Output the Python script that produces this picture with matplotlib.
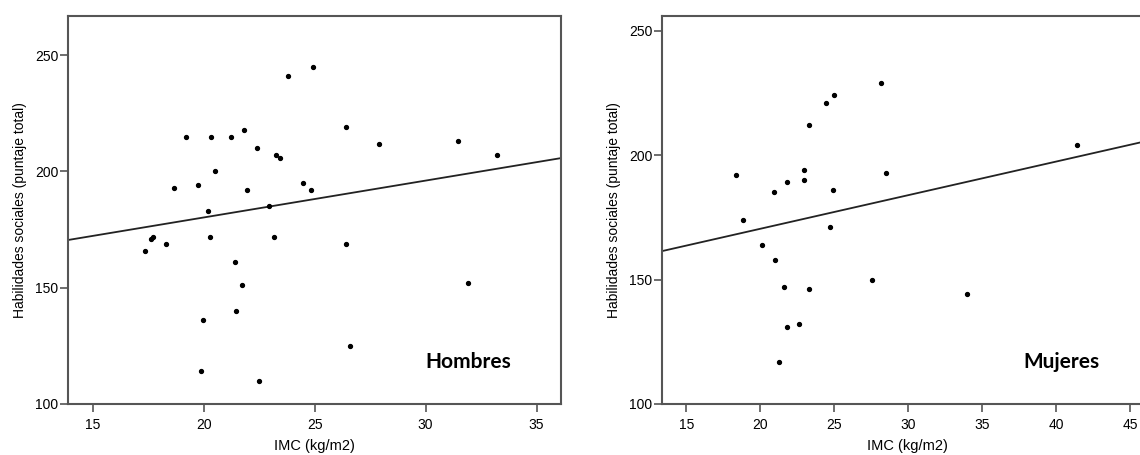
import matplotlib
matplotlib.use("Agg")
import matplotlib.pyplot as plt
import numpy as np

# Hombres (IMC, habilidades sociales)
imc_h = [17.34, 17.63, 17.72, 18.29, 18.68, 19.22, 19.75, 19.96, 19.89, 20.19,
         20.32, 20.30, 20.52, 21.24, 21.42, 21.45, 21.73, 21.82, 21.96, 22.40,
         22.51, 22.94, 23.15, 23.26, 23.44, 23.82, 24.49, 24.83, 24.93, 26.42,
         26.42, 26.61, 27.89, 31.45, 31.90, 33.22]
hs_h = [166, 171, 172, 169, 193, 215, 194, 136, 114, 183,
        215, 172, 200, 215, 161, 140, 151, 218, 192, 210,
        110, 185, 172, 207, 206, 241, 195, 192, 245, 219,
        169, 125, 212, 213, 152, 207]

# Mujeres
imc_m = [18.38, 18.83, 20.08, 20.91, 20.98, 21.28, 21.60, 21.79, 21.79, 22.58,
         22.97, 22.97, 23.27, 23.31, 24.47, 24.74, 24.93, 24.98, 27.53, 28.17,
         28.49, 33.98, 41.40]
hs_m = [192, 174, 164, 185, 158, 117, 147, 189, 131, 132,
        194, 190, 146, 212, 221, 171, 186, 224, 150, 229,
        193, 144, 204]

# regression lines (intercept, slope)
fit_h = (148.5, 1.586)
fit_m = (143.4, 1.35)

plt.rcParams['font.family'] = ['Liberation Sans', 'DejaVu Sans']

fig = plt.figure(figsize=(11.4, 4.55), dpi=100)
ax1 = fig.add_axes([0.0599, 0.1121, 0.4322, 0.8534])
ax2 = fig.add_axes([0.5807, 0.1121, 0.4301, 0.8534])

panels = [
    (ax1, imc_h, hs_h, fit_h, (13.9, 36.1), (100, 267), [15, 20, 25, 30, 35], 'Hombres', (31.94, 118.2)),
    (ax2, imc_m, hs_m, fit_m, (13.35, 46.5), (100, 256), [15, 20, 25, 30, 35, 40, 45], 'Mujeres', (40.38, 117.0)),
]

for ax, x, y, fit, xl, yl, xt, name, pos in panels:
    ax.plot(x, y, 'o', color='black', markersize=2.8, zorder=3)
    ax.axline((0, fit[0]), slope=fit[1], color='#222222', linewidth=1.3)
    ax.set_xlim(xl)
    ax.set_ylim(yl)
    ax.set_xticks(xt)
    ax.set_yticks([100, 150, 200, 250])
    for s in ax.spines.values():
        s.set_color('#555555')
        s.set_linewidth(1.5)
    ax.tick_params(axis='both', direction='out', length=6, width=1.2,
                   color='#555555', labelsize=10, top=False, right=False)
    ax.tick_params(axis='y', pad=1)
    ax.tick_params(axis='x', pad=4)
    ax.set_xlabel('IMC (kg/m2)', fontsize=10.5, labelpad=5)
    ax.set_ylabel('Habilidades sociales (puntaje total)', fontsize=10, labelpad=6)
    ax.text(pos[0], pos[1], name, family='Lato', fontweight='bold', fontsize=15,
            ha='center', va='center')

fig.savefig('out.png', dpi=100)
